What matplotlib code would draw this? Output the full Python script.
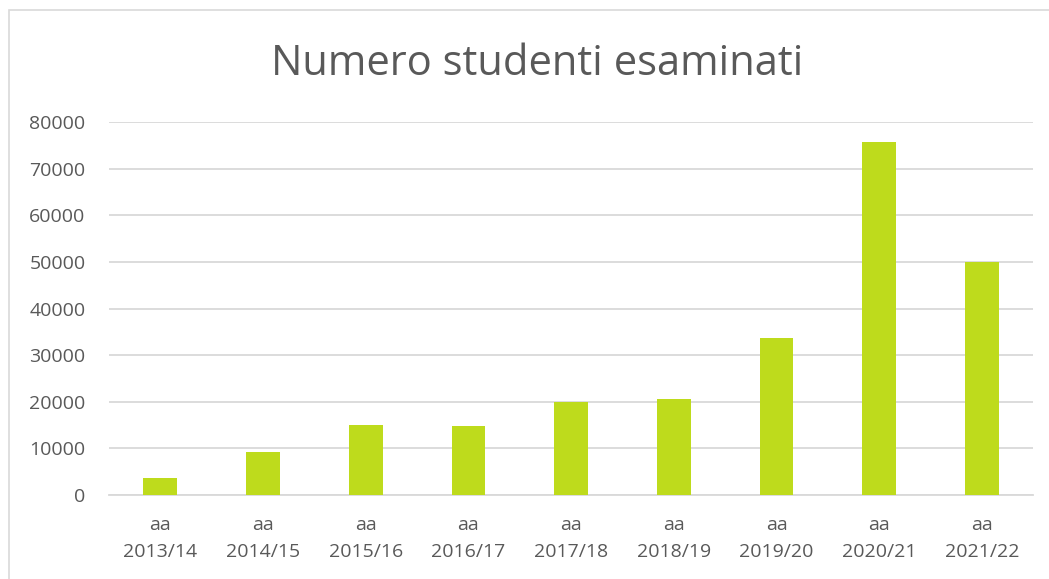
import matplotlib.pyplot as plt
from matplotlib.patches import Rectangle

# anni accademici e numero di studenti esaminati
anni = ['2013/14', '2014/15', '2015/16', '2016/17', '2017/18',
        '2018/19', '2019/20', '2020/21', '2021/22']
studenti = [3600, 9200, 15000, 14800, 19900, 20700, 33800, 75700, 50000]
y_ticks = [0, 10000, 20000, 30000, 40000, 50000, 60000, 70000, 80000]

plt.rcParams['font.family'] = ['Open Sans', 'DejaVu Sans']

fig = plt.figure(figsize=(10.49, 5.79), dpi=100)
ax = fig.add_axes([0.104, 0.145, 0.881, 0.644])

# bordo del grafico
fig.patches.append(Rectangle((0.009, -0.05), 1.5, 1.033, transform=fig.transFigure,
                             fill=False, edgecolor='#D9D9D9', linewidth=1.2))

x = range(len(anni))
ax.bar(x, studenti, width=0.33, color='#BEDB1C', zorder=3)

ax.set_ylim(0, 80000)
ax.set_xlim(-0.5, len(anni) - 0.5)
ax.set_yticks(y_ticks)
ax.set_yticklabels([str(v) for v in y_ticks])
ax.set_xticks(list(x))
ax.set_xticklabels(['aa\n' + a for a in anni], linespacing=1.65)

ax.grid(axis='y', color='#D9D9D9', linewidth=1.3, zorder=0)
for s in ['top', 'right', 'left']:
    ax.spines[s].set_visible(False)
ax.spines['bottom'].set_color('#D9D9D9')
ax.spines['bottom'].set_linewidth(1.3)
ax.tick_params(axis='both', length=0, colors='#595959', labelsize=14)
ax.tick_params(axis='y', pad=17)
ax.tick_params(axis='x', pad=15)

fig.text(0.512, 0.89, 'Numero studenti esaminati', ha='center', va='center',
         fontsize=30, color='#595959')

plt.savefig('out.png', dpi=100)
